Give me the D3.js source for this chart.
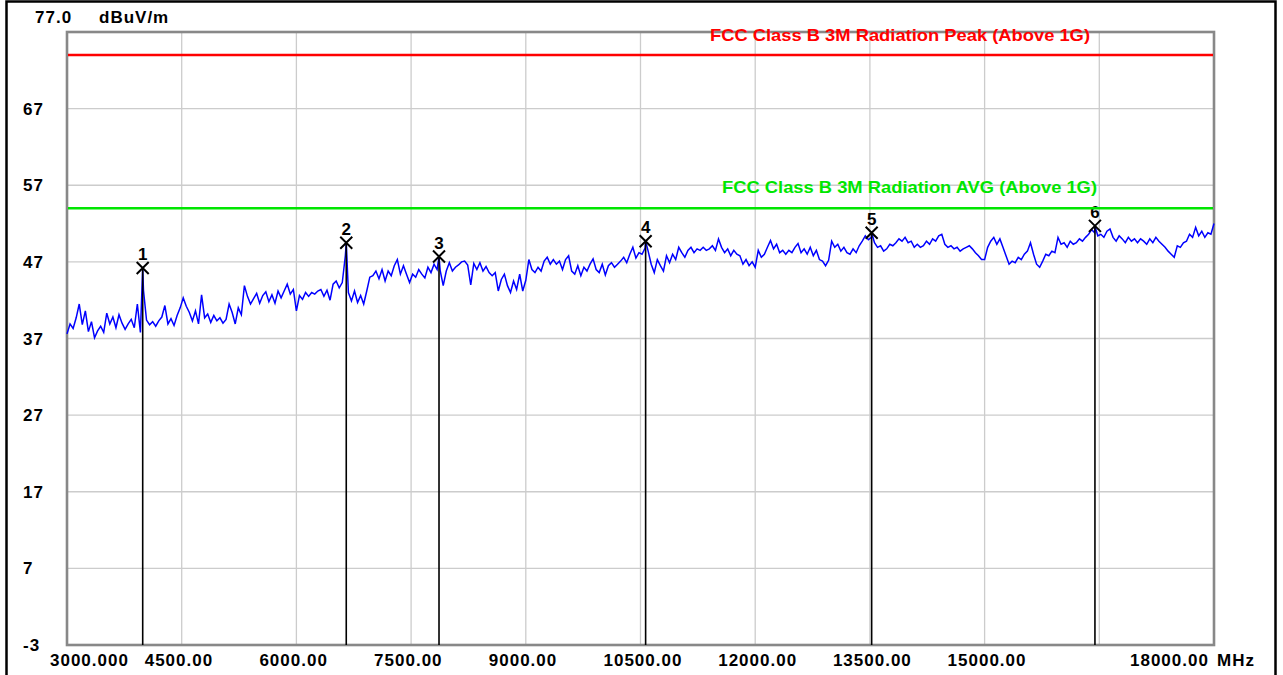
<!DOCTYPE html>
<html>
<head>
<meta charset="utf-8">
<script src="https://cdn.jsdelivr.net/npm/d3@7"></script>
<style>
  html, body { margin: 0; padding: 0; background: #fff; }
  svg { display: block; }
  text { font-family: "Liberation Sans", Arial, sans-serif; font-weight: bold; fill: #000; }
</style>
</head>
<body>
<svg id="chart" width="1283" height="675"></svg>
<script>
// Sweep settings (MHz) and measured level at each sweep point (dBuV/m)
const sweepStart = 3000;
const sweepStep = 40;
const levels = [
  37.6, 38.9, 38.3, 39.7, 41.5, 38.8, 40.6, 37.9, 39.2, 37.1,
  38.0, 38.6, 37.8, 40.3, 38.9, 39.8, 38.4, 40.1, 39.0, 38.2,
  38.9, 39.5, 38.4, 41.5, 37.8, 43.3, 39.4, 38.8, 39.2, 38.6,
  39.3, 39.8, 41.3, 38.9, 39.6, 38.7, 40.0, 41.0, 42.3, 41.2,
  40.4, 39.3, 40.6, 38.9, 42.7, 39.7, 40.2, 39.1, 40.0, 39.3,
  39.7, 39.0, 39.5, 41.5, 40.4, 38.9, 41.0, 40.1, 43.9, 42.5,
  41.5, 42.2, 42.9, 41.6, 42.6, 43.1, 41.8, 42.7, 41.6, 43.2,
  42.3, 43.2, 44.1, 42.8, 43.4, 40.6, 42.6, 42.1, 43.0, 42.5,
  43.0, 42.8, 43.2, 43.4, 42.5, 43.3, 42.0, 44.1, 44.5, 43.6,
  44.3, 47.8, 43.0, 41.9, 43.2, 41.7, 42.6, 41.5, 43.2, 45.0,
  45.2, 45.8, 44.8, 46.0, 44.5, 45.8, 45.2, 46.5, 47.3, 45.4,
  46.5, 45.4, 44.3, 45.4, 45.0, 46.0, 45.4, 44.9, 46.3, 45.6,
  46.7, 46.0, 45.9, 43.9, 45.8, 46.9, 45.8, 46.3, 46.6, 47.0,
  47.1, 46.6, 44.0, 46.8, 46.0, 46.9, 45.8, 46.4, 45.6, 45.2,
  45.6, 43.2, 44.7, 45.4, 43.9, 43.0, 44.5, 43.4, 45.4, 43.2,
  44.6, 47.3, 46.0, 45.6, 46.3, 45.8, 47.1, 47.6, 46.7, 47.3,
  46.7, 47.1, 46.0, 47.3, 47.8, 45.8, 45.4, 46.5, 45.2, 46.3,
  45.8, 46.7, 47.4, 46.0, 45.6, 46.7, 45.3, 46.5, 46.9, 46.3,
  46.7, 47.1, 47.6, 46.9, 48.0, 48.9, 47.5, 48.2, 48.0, 48.8,
  48.4, 46.7, 45.6, 47.3, 46.5, 45.8, 47.8, 46.9, 48.0, 47.3,
  48.9, 48.2, 47.6, 48.5, 48.9, 48.2, 48.7, 48.5, 48.9, 48.5,
  48.7, 49.1, 48.5, 50.0, 48.9, 48.2, 48.7, 47.8, 48.5, 48.0,
  47.8, 46.7, 47.3, 46.5, 47.0, 46.3, 48.5, 47.6, 48.0, 48.9,
  49.8, 48.7, 49.3, 48.2, 48.5, 48.0, 48.5, 48.2, 48.9, 49.4,
  48.2, 48.7, 48.0, 48.9, 47.8, 48.5, 47.3, 47.1, 46.5, 47.2,
  49.7, 48.9, 49.3, 48.4, 48.9, 48.2, 48.0, 48.7, 48.2, 49.1,
  49.7, 50.4, 49.9, 50.2, 49.5, 48.9, 49.1, 48.4, 48.7, 49.3,
  49.1, 49.5, 50.0, 49.7, 50.2, 49.5, 49.7, 48.9, 49.3, 48.9,
  49.1, 49.7, 49.3, 50.0, 49.7, 50.4, 50.6, 49.3, 48.9, 49.1,
  48.7, 48.9, 48.4, 48.7, 48.9, 49.1, 48.7, 48.2, 47.8, 47.3,
  47.3, 48.9, 49.7, 50.2, 49.3, 50.0, 48.9, 47.8, 46.7, 47.1,
  46.9, 47.6, 47.3, 48.0, 48.4, 49.5, 48.0, 46.7, 46.3, 47.1,
  48.0, 47.8, 48.4, 48.2, 50.2, 49.3, 49.5, 48.9, 49.7, 49.3,
  49.5, 50.0, 49.7, 50.2, 50.6, 51.2, 50.8, 50.4, 50.6, 50.2,
  51.0, 51.3, 50.2, 49.7, 50.4, 50.0, 49.5, 50.2, 49.7, 50.0,
  49.5, 50.0, 49.7, 49.3, 50.0, 49.5, 50.2, 49.7, 49.3, 48.9,
  48.4, 48.0, 47.6, 49.1, 48.9, 49.5, 49.7, 50.6, 50.2, 51.5,
  50.4, 51.0, 50.2, 50.8, 50.6, 52.0
];

// Peak markers
const markerIds = ["1", "2", "3", "4", "5", "6"];
const markerFreqs = [3990, 6652, 7865, 10567, 13523, 16443];
const markerLevels = [46.2, 49.5, 47.7, 49.7, 50.8, 51.7];

// Limit lines
const limitNames = ["FCC Class B 3M Radiation Peak (Above 1G)", "FCC Class B 3M Radiation AVG (Above 1G)"];
const limitLevels = [74, 54];
const limitColors = ["#ff0000", "#00e600"];

// Axis ticks
const yTicks = [-3, 7, 17, 27, 37, 47, 57, 67];
const yTopLabel = "77.0";
const yUnit = "dBuV/m";
const xTicks = [3000, 4500, 6000, 7500, 9000, 10500, 12000, 13500, 15000, 16500, 18000];
const xTickLabels = ["3000.000", "4500.00", "6000.00", "7500.00", "9000.00", "10500.00", "12000.00", "13500.00", "15000.00", "", "18000.00"];
const xUnit = "MHz";

const svg = d3.select("#chart");
const W = 1283, H = 675;
const plot = { left: 67, right: 1214, top: 32, bottom: 645 };

const x = d3.scaleLinear().domain([3000, 18000]).range([plot.left, plot.right]);
const y = d3.scaleLinear().domain([-3, 77]).range([plot.bottom, plot.top]);

// Outer frame
svg.append("rect").attr("x", 0).attr("y", 0).attr("width", W).attr("height", H).attr("fill", "#fff");
svg.append("rect")
  .attr("x", 6.5).attr("y", 1.5).attr("width", 1269).attr("height", 720)
  .attr("fill", "none").attr("stroke", "#000").attr("stroke-width", 2.5);

// Grid
const grid = svg.append("g");
grid.selectAll("line.v").data(xTicks.slice(1, -1)).join("line")
  .attr("x1", d => x(d)).attr("x2", d => x(d))
  .attr("y1", plot.top).attr("y2", plot.bottom)
  .attr("stroke", "#cccccc").attr("stroke-width", 1.3);
grid.selectAll("line.h").data(yTicks.slice(1)).join("line")
  .attr("x1", plot.left).attr("x2", plot.right)
  .attr("y1", d => y(d)).attr("y2", d => y(d))
  .attr("stroke", "#cccccc").attr("stroke-width", 1.3);

// Plot border
svg.append("rect")
  .attr("x", plot.left).attr("y", plot.top)
  .attr("width", plot.right - plot.left).attr("height", plot.bottom - plot.top)
  .attr("fill", "none").attr("stroke", "#888888").attr("stroke-width", 2.6);

// Y axis labels
svg.append("g").selectAll("text").data(yTicks).join("text")
  .attr("x", 23).attr("y", d => y(d) + 6)
  .attr("font-size", 17).attr("letter-spacing", 1)
  .text(d => d);
svg.append("text").attr("x", 35).attr("y", 23).attr("font-size", 17).attr("letter-spacing", 1).text(yTopLabel);
svg.append("text").attr("x", 99).attr("y", 23).attr("font-size", 17).attr("letter-spacing", 1).text(yUnit);

// X axis labels
const xl = svg.append("g");
xTicks.forEach((t, i) => {
  const label = xTickLabels[i];
  if (!label) return;
  let px = x(t) - 37;
  if (i === 0) px = x(t) - 17;
  if (i === xTicks.length - 1) px = x(t) - 84;
  xl.append("text").attr("x", px).attr("y", 666)
    .attr("font-size", 17).attr("letter-spacing", 1).text(label);
});
xl.append("text").attr("x", x(18000) + 3).attr("y", 666)
  .attr("font-size", 17).attr("letter-spacing", 1).text(xUnit);

// Trace: sweep points merged with marker points
const trace = levels.map((v, i) => ({ f: sweepStart + i * sweepStep, v }))
  .concat(markerFreqs.map((f, i) => ({ f, v: markerLevels[i] })))
  .sort((a, b) => a.f - b.f);
svg.append("path")
  .datum(trace)
  .attr("fill", "none").attr("stroke", "#0000ff").attr("stroke-width", 1.5)
  .attr("stroke-linejoin", "miter")
  .attr("d", d3.line().x(d => x(d.f)).y(d => y(d.v)));

// Markers
const mk = svg.append("g");
markerFreqs.forEach((f, i) => {
  const mx = x(f), my = y(markerLevels[i]);
  mk.append("line").attr("x1", mx).attr("x2", mx).attr("y1", my).attr("y2", plot.bottom)
    .attr("stroke", "#000").attr("stroke-width", 1.6);
  const s = 6;
  mk.append("path")
    .attr("d", `M${mx - s},${my - s}L${mx + s},${my + s}M${mx + s},${my - s}L${mx - s},${my + s}`)
    .attr("stroke", "#000").attr("stroke-width", 2).attr("fill", "none");
  mk.append("text").attr("x", mx).attr("y", my - 8)
    .attr("text-anchor", "middle").attr("font-size", 17).text(markerIds[i]);
});

// Limit lines with labels
const labelPos = [{ x: 710, y: 41, len: 380 }, { x: 722, y: 193, len: 375 }];
limitLevels.forEach((lv, i) => {
  svg.append("line")
    .attr("x1", plot.left + 1).attr("x2", plot.right - 1)
    .attr("y1", y(lv)).attr("y2", y(lv))
    .attr("stroke", limitColors[i]).attr("stroke-width", 2.6);
  svg.append("text")
    .attr("x", labelPos[i].x).attr("y", labelPos[i].y)
    .attr("font-size", 17)
    .attr("textLength", labelPos[i].len).attr("lengthAdjust", "spacingAndGlyphs")
    .style("fill", limitColors[i])
    .text(limitNames[i]);
});
</script>
</body>
</html>
